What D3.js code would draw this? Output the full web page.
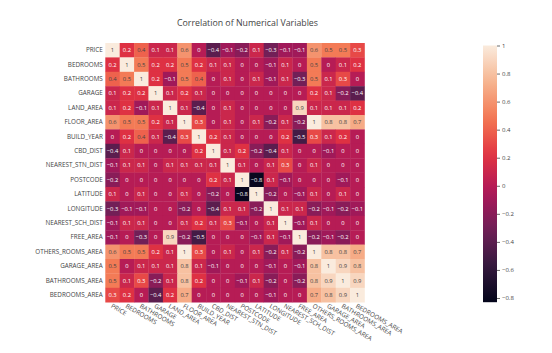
<!DOCTYPE html>
<html>
<head>
<meta charset="utf-8">
<script src="https://cdn.jsdelivr.net/npm/d3@7"></script>
<style>
  html, body { margin: 0; padding: 0; background: #fff; }
  svg { display: block; font-family: "Open Sans", "Noto Sans", sans-serif; }
</style>
</head>
<body>
<svg id="chart" width="552" height="353"></svg>
<script>
// ---- data ----
const variables = ["PRICE","BEDROOMS","BATHROOMS","GARAGE","LAND_AREA","FLOOR_AREA","BUILD_YEAR","CBD_DIST","NEAREST_STN_DIST","POSTCODE","LATITUDE","LONGITUDE","NEAREST_SCH_DIST","FREE_AREA","OTHERS_ROOMS_AREA","GARAGE_AREA","BATHROOMS_AREA","BEDROOMS_AREA"];
const rowPRICE            = [1, 0.2, 0.4, 0.1, 0.1, 0.6, 0, -0.4, -0.1, -0.2, 0.1, -0.3, -0.1, -0.1, 0.6, 0.5, 0.5, 0.3];
const rowBEDROOMS         = [0.2, 1, 0.5, 0.2, 0.2, 0.5, 0.2, 0.1, 0.1, 0, 0, -0.1, 0.1, 0, 0.5, 0, 0.1, 0.2];
const rowBATHROOMS        = [0.4, 0.5, 1, 0.2, -0.1, 0.5, 0.4, 0, 0.1, 0, 0.1, -0.1, 0.1, -0.3, 0.5, 0.1, 0.3, 0];
const rowGARAGE           = [0.1, 0.2, 0.2, 1, 0.1, 0.2, 0.1, 0, 0, 0, 0, 0, 0, 0, 0.2, 0.1, -0.2, -0.4];
const rowLAND_AREA        = [0.1, 0.2, -0.1, 0.1, 1, 0.1, -0.4, 0, 0.1, 0, 0, 0, 0, 0.9, 0.1, 0.1, 0.1, 0.2];
const rowFLOOR_AREA       = [0.6, 0.5, 0.5, 0.2, 0.1, 1, 0.3, 0, 0.1, 0, 0.1, -0.2, 0.1, -0.2, 1, 0.8, 0.8, 0.7];
const rowBUILD_YEAR       = [0, 0.2, 0.4, 0.1, -0.4, 0.3, 1, 0.2, 0.1, 0, 0, 0, 0.2, -0.5, 0.3, 0.1, 0.2, 0];
const rowCBD_DIST         = [-0.4, 0.1, 0, 0, 0, 0, 0.2, 1, 0.1, 0.2, -0.2, -0.4, 0.1, 0, 0, -0.1, 0, 0];
const rowNEAREST_STN_DIST = [-0.1, 0.1, 0.1, 0, 0.1, 0.1, 0.1, 0.1, 1, 0.1, 0, 0.1, 0.3, 0, 0.1, 0, 0, 0];
const rowPOSTCODE         = [-0.2, 0, 0, 0, 0, 0, 0, 0.2, 0.1, 1, -0.8, 0.1, -0.1, 0, 0, 0, -0.1, 0];
const rowLATITUDE         = [0.1, 0, 0.1, 0, 0, 0.1, 0, -0.2, 0, -0.8, 1, -0.2, 0, -0.1, 0.1, 0, 0.1, 0];
const rowLONGITUDE        = [-0.3, -0.1, -0.1, 0, 0, -0.2, 0, -0.4, 0.1, 0.1, -0.2, 1, 0.1, 0.1, -0.2, -0.1, -0.2, -0.1];
const rowNEAREST_SCH_DIST = [-0.1, 0.1, 0.1, 0, 0, 0.1, 0.2, 0.1, 0.3, -0.1, 0, 0.1, 1, -0.1, 0.1, 0, 0, 0];
const rowFREE_AREA        = [-0.1, 0, -0.3, 0, 0.9, -0.2, -0.5, 0, 0, 0, -0.1, 0.1, -0.1, 1, -0.2, -0.1, -0.2, 0];
const rowOTHERS_ROOMS_AREA= [0.6, 0.5, 0.5, 0.2, 0.1, 1, 0.3, 0, 0.1, 0, 0.1, -0.2, 0.1, -0.2, 1, 0.8, 0.8, 0.7];
const rowGARAGE_AREA      = [0.5, 0, 0.1, 0.1, 0.1, 0.8, 0.1, -0.1, 0, 0, 0, -0.1, 0, -0.1, 0.8, 1, 0.9, 0.8];
const rowBATHROOMS_AREA   = [0.5, 0.1, 0.3, -0.2, 0.1, 0.8, 0.2, 0, 0, -0.1, 0.1, -0.2, 0, -0.2, 0.8, 0.9, 1, 0.9];
const rowBEDROOMS_AREA    = [0.3, 0.2, 0, -0.4, 0.2, 0.7, 0, 0, 0, 0, 0, -0.1, 0, 0, 0.7, 0.8, 0.9, 1];
const colorbarTicks = [1, 0.8, 0.6, 0.4, 0.2, 0, -0.2, -0.4, -0.6, -0.8];
const zMin = -0.83, zMax = 1;
const titleText = "Correlation of Numerical Variables";

const matrix = [rowPRICE,rowBEDROOMS,rowBATHROOMS,rowGARAGE,rowLAND_AREA,rowFLOOR_AREA,rowBUILD_YEAR,rowCBD_DIST,rowNEAREST_STN_DIST,rowPOSTCODE,rowLATITUDE,rowLONGITUDE,rowNEAREST_SCH_DIST,rowFREE_AREA,rowOTHERS_ROOMS_AREA,rowGARAGE_AREA,rowBATHROOMS_AREA,rowBEDROOMS_AREA];

// ---- scales ----
const svg = d3.select("#chart");
const x = d3.scaleBand().domain(variables).range([105.3, 364.5]).padding(0);
const y = d3.scaleBand().domain(variables).range([43, 302.2]).padding(0);

const rocketStops = ["#03051a","#35193e","#701f57","#ad1759","#e13342","#f37651","#f6b48f","#faebdd"];
const rocket = d3.scaleLinear()
  .domain(rocketStops.map((d,i)=>i/(rocketStops.length-1)))
  .range(rocketStops).interpolate(d3.interpolateRgb).clamp(true);
const norm = d3.scaleLinear().domain([zMin, zMax]).range([0,1]);
const color = v => rocket(norm(v));

const fmt = v => {
  if (v === 0) return "0";
  if (v === 1) return "1";
  const s = Math.abs(v).toString();
  return (v < 0 ? "\u2212" : "") + s;
};
function isLight(c) {
  const r = d3.rgb(c);
  return (r.r*299 + r.g*587 + r.b*114)/1000 >= 128;
}

// ---- cells ----
const cells = [];
matrix.forEach((row, i) => row.forEach((v, j) => cells.push({r: variables[i], c: variables[j], v})));

svg.append("g").selectAll("rect").data(cells).join("rect")
  .attr("x", d => x(d.c)).attr("y", d => y(d.r))
  .attr("width", x.bandwidth() + 0.3).attr("height", y.bandwidth() + 0.3)
  .attr("fill", d => color(d.v));

svg.append("g").selectAll("text").data(cells).join("text")
  .attr("x", d => x(d.c) + x.bandwidth()/2)
  .attr("y", d => y(d.r) + y.bandwidth()/2)
  .attr("dy", "0.35em")
  .attr("text-anchor", "middle")
  .attr("font-size", 5.8)
  .attr("fill", d => isLight(color(d.v)) ? "#444" : "#fff")
  .text(d => fmt(d.v));

// ---- axes labels ----
const yAxis = d3.axisLeft(y).tickSize(0).tickPadding(2.5);
const gy = svg.append("g").attr("transform", "translate(105.3,0)").call(yAxis);
gy.select(".domain").remove();
gy.selectAll("text").attr("font-size", 6.3).attr("fill", "#444").attr("font-family", "Open Sans");

const xAxis = d3.axisBottom(x).tickSize(0).tickPadding(0);
const gx = svg.append("g").attr("transform", "translate(0,302.2)").call(xAxis);
gx.select(".domain").remove();
gx.selectAll("text")
  .attr("font-size", 6.3).attr("fill", "#444").attr("font-family", "Open Sans")
  .attr("text-anchor", "start")
  .attr("y", 0).attr("dy", 0)
  .attr("transform", "translate(-2,5) rotate(30)");

// ---- title ----
svg.append("text").attr("x", 247.5).attr("y", 26).attr("text-anchor", "middle")
  .attr("font-size", 8.8).attr("fill", "#444").text(titleText);

// ---- colorbar ----
const cbX = 483, cbW = 14;
const cbY = d3.scaleLinear().domain([zMin, zMax]).range([302.2, 45.5]);
const defs = svg.append("defs");
const grad = defs.append("linearGradient").attr("id", "cbgrad")
  .attr("x1", 0).attr("y1", 1).attr("x2", 0).attr("y2", 0);
d3.range(0, 1.0001, 0.05).forEach(t => {
  grad.append("stop").attr("offset", t).attr("stop-color", rocket(t));
});
svg.append("rect").attr("x", cbX).attr("y", cbY(zMax)).attr("width", cbW)
  .attr("height", cbY(zMin) - cbY(zMax)).attr("fill", "url(#cbgrad)");
const cbAxis = d3.axisRight(cbY).tickValues(colorbarTicks).tickSize(3).tickPadding(2)
  .tickFormat(d => d === 0 ? "0" : (d < 0 ? "\u2212" + Math.abs(d) : String(d)));
const gcb = svg.append("g").attr("transform", `translate(${cbX + cbW},0)`).call(cbAxis);
gcb.select(".domain").remove();
gcb.selectAll("line").attr("stroke", "#444").attr("stroke-width", 0.8);
gcb.selectAll("text").attr("font-size", 6).attr("fill", "#444").attr("font-family", "Open Sans");
</script>
</body>
</html>
